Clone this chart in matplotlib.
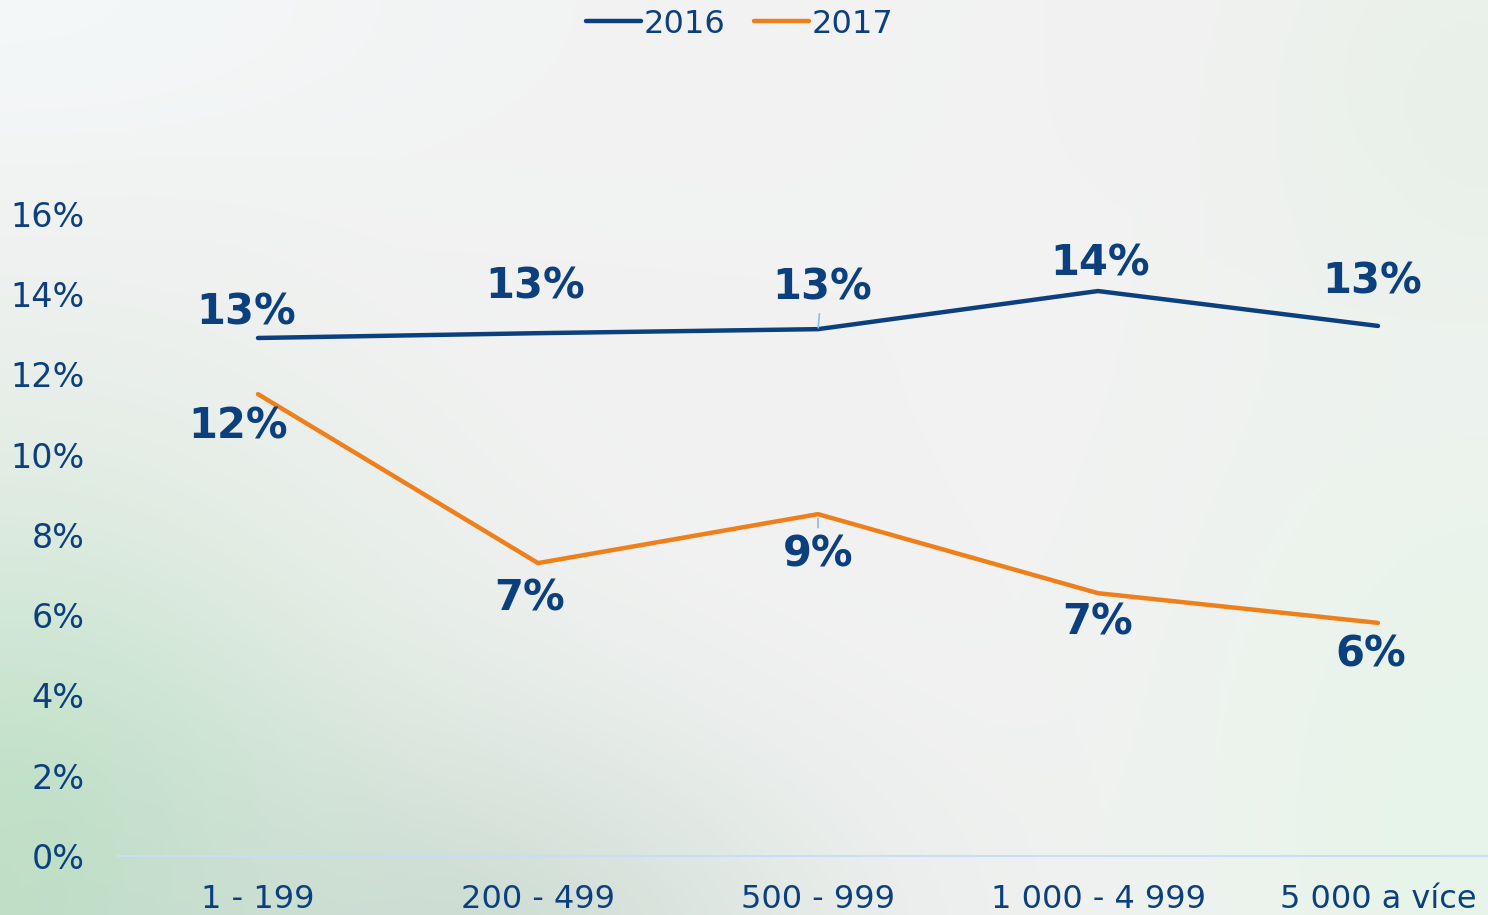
import numpy as np
import matplotlib
matplotlib.use("Agg")
import matplotlib.pyplot as plt
from matplotlib.ticker import FuncFormatter, MultipleLocator

categories = ["1 - 199", "200 - 499", "500 - 999", "1 000 - 4 999", "5 000 a více"]
series_2016 = [12.91, 13.03, 13.13, 14.08, 13.21]
series_2017 = [11.51, 7.30, 8.52, 6.55, 5.81]
labels_2016 = ["13%", "13%", "13%", "14%", "13%"]
labels_2017 = ["12%", "7%", "9%", "7%", "6%"]

NAVY = "#0B3F7E"
ORANGE = "#EF7F1A"
TEXT = "#0B3F7E"

plt.rcParams['font.family'] = ['DejaVu Sans']

fig = plt.figure(figsize=(14.88, 9.15), dpi=100)

# background gradient
H, W = 183, 298
yy, xx = np.mgrid[0:H, 0:W]
yy = yy / (H - 1)
xx = xx / (W - 1)
base = np.array([0.949, 0.949, 0.949])
img = np.ones((H, W, 3)) * base
def blob(cx, cy, rx, ry, col, strength):
    d = ((xx - cx) / rx) ** 2 + ((yy - cy) / ry) ** 2
    w = np.exp(-d)[..., None] * strength
    return w, np.array(col)
for cx, cy, rx, ry, col, s in [
    (0.0, 1.0, 0.25, 0.45, [0.74, 0.88, 0.77], 1.0),
    (0.30, 1.05, 0.25, 0.25, [0.78, 0.85, 0.81], 0.8),
    (1.0, 0.9, 0.2, 0.5, [0.90, 0.96, 0.91], 0.9),
    (1.0, 0.1, 0.15, 0.25, [0.90, 0.94, 0.90], 0.7),
    (0.0, 0.0, 0.3, 0.2, [0.96, 0.975, 0.98], 0.8),
]:
    w, c = blob(cx, cy, rx, ry, col, s)
    img = img * (1 - w) + c * w
bg = fig.add_axes([0, 0, 1, 1], zorder=-10)
bg.imshow(img, aspect="auto", extent=[0, 1, 0, 1], origin="upper", interpolation="bicubic")
bg.axis("off")

ax = fig.add_axes([118 / 1488, 59 / 915, 1400 / 1488, 642 / 915])
ax.patch.set_alpha(0)
x = np.arange(len(categories))
l1, = ax.plot(x, series_2016, color=NAVY, lw=3.2, solid_capstyle="round", label="2016")
l2, = ax.plot(x, series_2017, color=ORANGE, lw=3.2, solid_capstyle="round", label="2017")

ax.set_xlim(-0.5, 4.5)
ax.set_ylim(0, 16)
ax.yaxis.set_major_locator(MultipleLocator(2))
ax.yaxis.set_major_formatter(FuncFormatter(lambda v, p: f"{v:.0f}%"))
ax.set_xticks(x)
ax.set_xticklabels(categories)
for s in ["top", "right", "left"]:
    ax.spines[s].set_visible(False)
ax.spines["bottom"].set_color("#C6DEF8")
ax.spines["bottom"].set_linewidth(1.5)
ax.tick_params(axis="both", length=0, colors=TEXT)
ax.tick_params(axis="y", pad=24, labelsize=24)
ax.tick_params(axis="x", pad=20, labelsize=23)

off_2016 = [(-12, 25), (-3, 47), (4, 42), (2, 28), (-6, 44)]
off_2017 = [(-20, -32), (-8, -35), (0, -40), (0, -29), (-7, -32)]
for i in range(len(categories)):
    dx, dy = off_2016[i]
    kw = {}
    if i == 2:
        kw = dict(arrowprops=dict(arrowstyle="-", color="#86BDF2", lw=1.2, shrinkA=2, shrinkB=1))
    ax.annotate(labels_2016[i], (x[i], series_2016[i]), xytext=(dx * 0.72, dy * 0.72),
                textcoords="offset points", ha="center", va="center",
                fontsize=30, fontweight="bold", color=TEXT, **kw)
    dx, dy = off_2017[i]
    kw = {}
    if i == 2:
        kw = dict(arrowprops=dict(arrowstyle="-", color="#86BDF2", lw=1.2, shrinkA=2, shrinkB=3))
    ax.annotate(labels_2017[i], (x[i], series_2017[i]), xytext=(dx * 0.72, dy * 0.72),
                textcoords="offset points", ha="center", va="center",
                fontsize=30, fontweight="bold", color=TEXT, **kw)

leg = fig.legend(handles=[l1, l2], loc="upper center", bbox_to_anchor=(740 / 1488, 1.022),
                 ncol=2, frameon=False, fontsize=23, handlelength=1.7,
                 handletextpad=0.1, columnspacing=0.9)
for t in leg.get_texts():
    t.set_color(TEXT)

fig.savefig("out.png", dpi=100)
